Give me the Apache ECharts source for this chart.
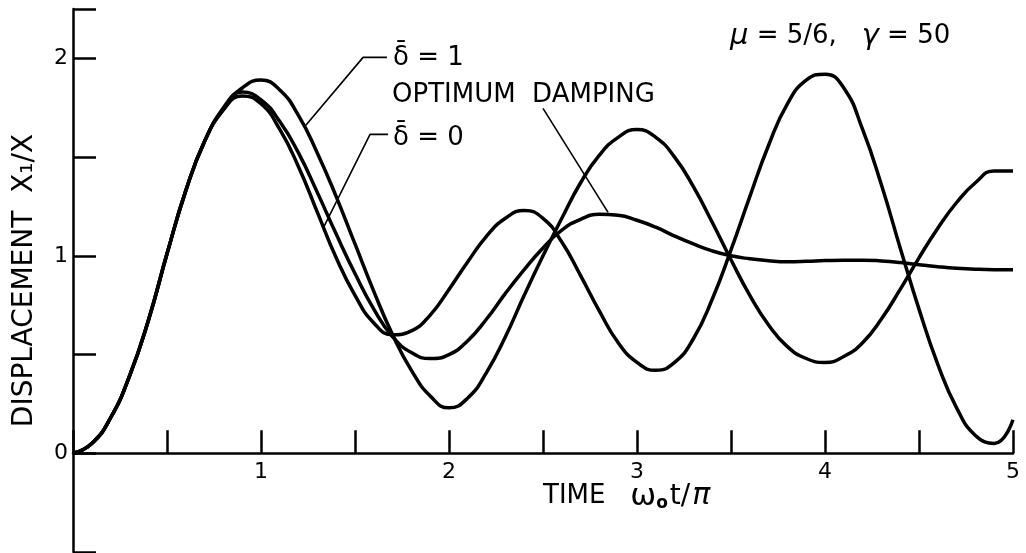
<!DOCTYPE html>
<html>
<head>
<meta charset="utf-8">
<script src="https://cdn.jsdelivr.net/npm/echarts@6/dist/echarts.min.js"></script>
<style>
  html, body { margin: 0; padding: 0; background: #fff; }
  #chart { width: 1026px; height: 553px; }
</style>
</head>
<body>
<div id="chart"></div>
<script>
// Time axis samples (omega_0 t / pi)
const tValues = [0,0.1,0.2,0.3,0.4,0.5,0.6,0.7,0.8,0.9,1.0,1.1,1.2,1.3,1.4,1.5,1.6,1.7,1.8,1.9,2.0,2.1,2.2,2.3,2.4,2.5,2.6,2.7,2.8,2.9,3.0,3.1,3.2,3.3,3.4,3.5,3.6,3.7,3.8,3.9,4.0,4.1,4.2,4.3,4.4,4.5,4.6,4.7,4.8,4.9,5.0];

// Displacement X1/X, delta-bar = 1
const delta1Values = [0,0.05,0.18,0.39,0.67,1.01,1.33,1.58,1.75,1.85,1.89,
  1.84,1.71,1.52,1.30,1.06,0.82,0.60,0.42,0.29,0.23,
  0.28,0.41,0.59,0.80,1.00,1.19,1.37,1.51,1.60,1.64,
  1.60,1.50,1.35,1.17,0.98,0.80,0.65,0.54,0.48,0.46,
  0.49,0.56,0.68,0.83,0.99,1.14,1.27,1.37,1.43,1.43];

// Displacement X1/X, delta-bar = 0
const delta0Values = [0,0.05,0.18,0.39,0.67,1.01,1.33,1.58,1.74,1.81,1.77,
  1.64,1.45,1.22,0.99,0.80,0.66,0.60,0.62,0.70,0.83,
  0.97,1.10,1.19,1.23,1.19,1.07,0.90,0.72,0.56,0.46,
  0.42,0.46,0.58,0.78,1.03,1.30,1.56,1.77,1.89,1.92,
  1.85,1.64,1.36,1.04,0.73,0.45,0.23,0.09,0.05,0.17];

// Displacement X1/X, optimum damping
const optimumValues = [0,0.05,0.18,0.39,0.67,1.01,1.33,1.58,1.74,1.83,1.79,
  1.68,1.52,1.32,1.11,0.91,0.73,0.59,0.51,0.48,0.50,
  0.57,0.68,0.81,0.93,1.04,1.13,1.185,1.21,1.205,1.18,
  1.145,1.10,1.06,1.025,1.00,0.985,0.975,0.97,0.972,0.976,
  0.978,0.978,0.974,0.966,0.955,0.945,0.937,0.932,0.93,0.93];

// Leader lines for the labels (data coordinates)
const leaderDelta1 = [[1.67, 2.005], [1.543, 2.005], [1.234, 1.656]];
const leaderDelta0 = [[1.676, 1.615], [1.58, 1.615], [1.33, 1.139]];
const leaderOptimum = [[2.5, 1.747], [2.846, 1.22]];

// Tick labels
const xLabelValues = [1, 2, 3, 4, 5];
const yLabelValues = [0, 1, 2];

const FONT = 'DejaVu Sans';
const toPairs = (ys) => tValues.map((t, i) => [t, ys[i]]);

const curveSeries = (name, ys) => ({
  name, type: 'line', data: toPairs(ys), smooth: 0.5, showSymbol: false, symbol: 'none',
  lineStyle: { color: '#000', width: 3.5 }, silent: true, z: 3
});
const leaderSeries = (name, pts) => ({
  name, type: 'line', data: pts, smooth: false, showSymbol: false, symbol: 'none',
  lineStyle: { color: '#000', width: 1.6 }, silent: true, z: 4
});

const Y_MIN = -0.5, Y_MAX = 2.25, GRID_TOP = 9, GRID_BOTTOM = 1, H = 553;
const gridH = H - GRID_TOP - GRID_BOTTOM;
const zeroOffset = -gridH * (0 - Y_MIN) / (Y_MAX - Y_MIN);

const chart = echarts.init(document.getElementById('chart'), null, { renderer: 'canvas' });
chart.setOption({
  animation: false,
  backgroundColor: '#fff',
  grid: { left: 73, right: 13, top: GRID_TOP, bottom: GRID_BOTTOM, containLabel: false, outerBoundsMode: 'none' },
  xAxis: {
    type: 'value', min: 0, max: 5, interval: 0.5, position: 'bottom', offset: zeroOffset,
    axisLine: { onZero: false, lineStyle: { color: '#000', width: 2.5 } },
    axisTick: { inside: true, length: 23, lineStyle: { color: '#000', width: 2.5 } },
    axisLabel: {
      show: true, margin: 8, color: '#000', fontFamily: FONT, fontSize: 22, hideOverlap: false,
      formatter: (v) => xLabelValues.includes(Math.round(v * 100) / 100) ? String(Math.round(v)) : ''
    },
    splitLine: { show: false }
  },
  yAxis: {
    type: 'value', min: Y_MIN, max: Y_MAX, interval: 0.5,
    name: 'DISPLACEMENT  X\u2081/X', nameLocation: 'middle', nameRotate: 90, nameGap: 34,
    nameTextStyle: { color: '#000', fontFamily: FONT, fontSize: 28 },
    axisLine: { onZero: false, lineStyle: { color: '#000', width: 2.5 } },
    axisTick: { inside: true, length: 23, lineStyle: { color: '#000', width: 2.5 } },
    axisLabel: {
      margin: 5, color: '#000', fontFamily: FONT, fontSize: 22, showMaxLabel: true, showMinLabel: true,
      formatter: (v) => yLabelValues.includes(Math.round(v * 100) / 100) ? String(Math.round(v)) : ''
    },
    splitLine: { show: false }
  },
  series: [
    curveSeries('delta1', delta1Values),
    curveSeries('delta0', delta0Values),
    curveSeries('optimum', optimumValues),
    leaderSeries('leader1', leaderDelta1),
    leaderSeries('leader0', leaderDelta0),
    leaderSeries('leaderOpt', leaderOptimum)
  ],
  graphic: [
    { type: 'text', left: 393, top: 45, style: { text: '\u03B4\u0304 = 1', font: '26px "DejaVu Sans"', fill: '#000' } },
    { type: 'text', left: 392, top: 82, style: { text: 'OPTIMUM  DAMPING', font: '26px "DejaVu Sans"', fill: '#000' } },
    { type: 'text', left: 393, top: 125, style: { text: '\u03B4\u0304 = 0', font: '26px "DejaVu Sans"', fill: '#000' } },
    { type: 'text', left: 730, top: 22, style: {
        text: '{g|\u03BC} = 5/6,   {g|\u03B3} = 50',
        font: '26px "DejaVu Sans"', fill: '#000',
        rich: { g: { fontFamily: FONT, fontSize: 29, fontStyle: 'italic', fill: '#000' } }
    } },
    { type: 'text', left: 543, top: 481, style: {
        text: 'TIME   {w|\u03C9}{s|o}{t|t/}{p|\u03C0}',
        font: '26px "DejaVu Sans"', fill: '#000',
        rich: {
          w: { fontFamily: FONT, fontSize: 31, fill: '#000' },
          s: { fontFamily: FONT, fontSize: 17, fontWeight: 'bold', fill: '#000', verticalAlign: 'bottom', padding: [0, 2, 0, 0] },
          t: { fontFamily: FONT, fontSize: 28, fill: '#000', padding: [0, 2, 0, 0] },
          p: { fontFamily: FONT, fontSize: 30, fontStyle: 'italic', fill: '#000' }
        }
    } }
  ]
});
</script>
</body>
</html>
